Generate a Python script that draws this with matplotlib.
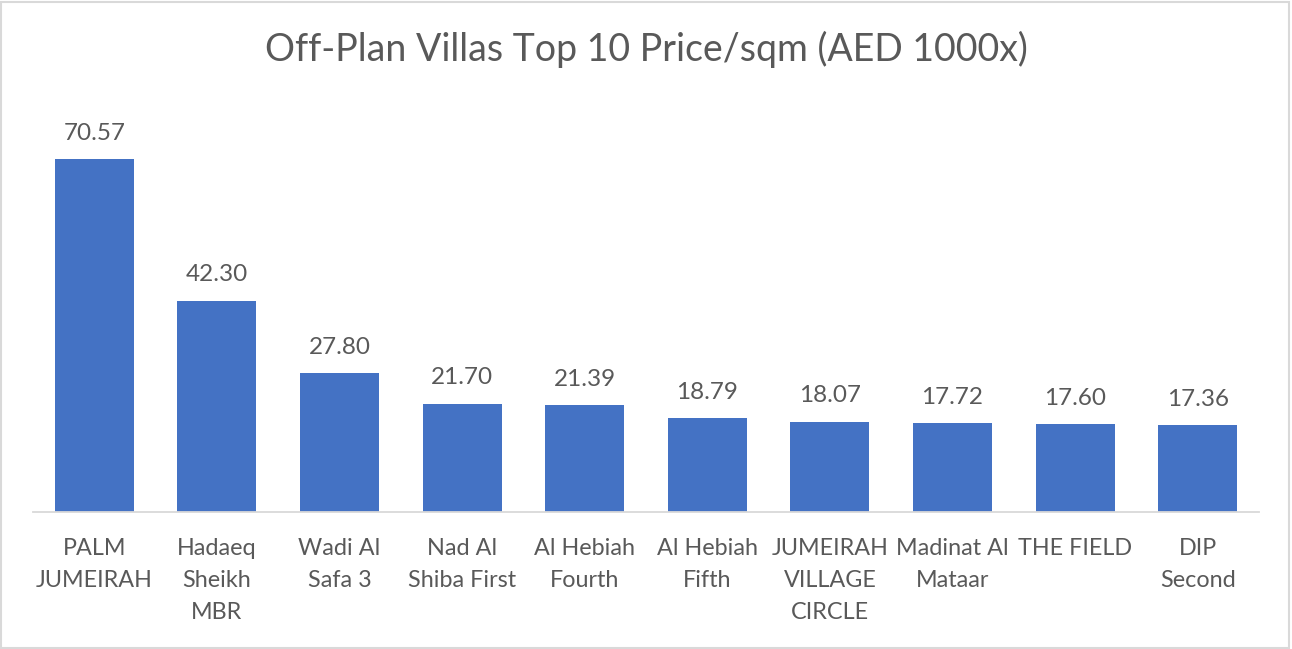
import matplotlib
matplotlib.use("Agg")
import matplotlib.pyplot as plt
from matplotlib.patches import Rectangle

categories = ["PALM\nJUMEIRAH", "Hadaeq\nSheikh\nMBR", "Wadi Al\nSafa 3", "Nad Al\nShiba First",
              "Al Hebiah\nFourth", "Al Hebiah\nFifth", "JUMEIRAH\nVILLAGE\nCIRCLE", "Madinat Al\nMataar",
              "THE FIELD", "DIP\nSecond"]
values = [70.57, 42.30, 27.80, 21.70, 21.39, 18.79, 18.07, 17.72, 17.60, 17.36]
title = "Off-Plan Villas Top 10 Price/sqm (AED 1000x)"

plt.rcParams['font.family'] = ['Lato', 'DejaVu Sans']
txt = '#595959'

fig = plt.figure(figsize=(12.92, 6.49), dpi=100)
ax = fig.add_axes([33/1292, (649-512)/649, (1259-33)/1292, 400/649])
x = list(range(len(values)))
bars = ax.bar(x, values, width=0.645, color='#4472C4', zorder=2)
ax.set_xlim(-0.5, len(values) - 0.5)
ax.set_ylim(0, 80)
for xi, v in zip(x, values):
    ax.annotate(f"{v:.2f}", (xi, v), xytext=(0, 11), textcoords='offset points',
                ha='center', va='bottom', fontsize=17.5, color=txt)
ax.set_xticks(x)
ax.set_xticklabels(categories, fontsize=16.8, color=txt, linespacing=1.63)
ax.tick_params(axis='x', length=0, pad=19)
ax.set_yticks([])
for s in ['top', 'right', 'left']:
    ax.spines[s].set_visible(False)
ax.spines['bottom'].set_color('#D9D9D9')
ax.spines['bottom'].set_linewidth(1.3)
fig.text(0.5, 1 - 49/649, title, ha='center', va='center', fontsize=27, color=txt)
fig.patches.append(Rectangle((0.001, 0.002), 0.997, 0.995, transform=fig.transFigure,
                             fill=False, edgecolor='#D9D9D9', linewidth=1.5))
fig.savefig("out.png", dpi=100, facecolor='white')
